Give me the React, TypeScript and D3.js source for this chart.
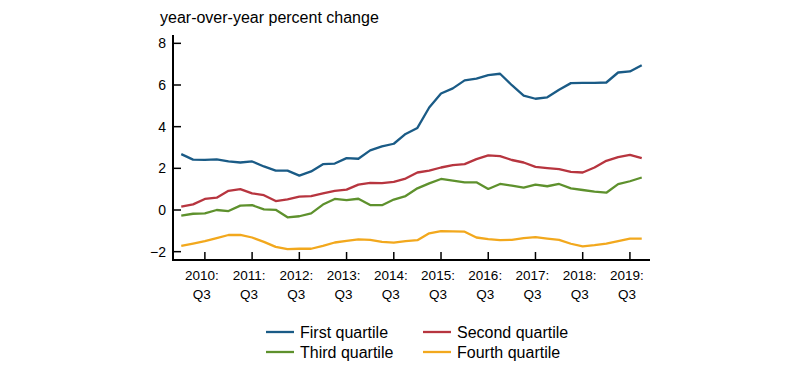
import React, { useEffect, useRef } from 'react';
import * as d3 from 'd3';

// quarterly, 2010:Q1 .. 2019:Q4
const quarters = d3.range(2010, 2020).flatMap(y => [1, 2, 3, 4].map(q => `${y}:Q${q}`));

const firstQuartile = [2.68, 2.42, 2.41, 2.43, 2.33, 2.28, 2.33, 2.09, 1.89, 1.89, 1.65, 1.85, 2.2, 2.23, 2.49, 2.46, 2.86, 3.05, 3.18, 3.65, 3.94, 4.92, 5.59, 5.84, 6.22, 6.31, 6.47, 6.54, 5.99, 5.49, 5.34, 5.41, 5.77, 6.09, 6.1, 6.1, 6.12, 6.6, 6.65, 6.95];
const secondQuartile = [0.16, 0.27, 0.53, 0.59, 0.92, 1.0, 0.8, 0.71, 0.43, 0.51, 0.64, 0.67, 0.8, 0.92, 0.98, 1.22, 1.3, 1.29, 1.35, 1.51, 1.8, 1.89, 2.04, 2.15, 2.2, 2.44, 2.62, 2.59, 2.4, 2.28, 2.07, 2.01, 1.96, 1.83, 1.8, 2.04, 2.36, 2.54, 2.65, 2.49];
const thirdQuartile = [-0.27, -0.18, -0.16, 0, -0.05, 0.21, 0.23, 0.03, 0.01, -0.35, -0.3, -0.16, 0.26, 0.53, 0.47, 0.54, 0.24, 0.23, 0.5, 0.67, 1.04, 1.28, 1.49, 1.41, 1.33, 1.33, 1.01, 1.25, 1.17, 1.07, 1.22, 1.14, 1.25, 1.04, 0.96, 0.88, 0.83, 1.24, 1.38, 1.56];
const fourthQuartile = [-1.72, -1.61, -1.49, -1.35, -1.2, -1.19, -1.32, -1.53, -1.77, -1.88, -1.86, -1.86, -1.72, -1.56, -1.48, -1.41, -1.43, -1.53, -1.57, -1.49, -1.45, -1.12, -1.01, -1.03, -1.04, -1.32, -1.4, -1.45, -1.43, -1.35, -1.3, -1.37, -1.43, -1.62, -1.75, -1.69, -1.61, -1.49, -1.37, -1.37];

const tickQuarters = ['2010:Q3', '2011:Q3', '2012:Q3', '2013:Q3', '2014:Q3', '2015:Q3', '2016:Q3', '2017:Q3', '2018:Q3', '2019:Q3'];
const yTicks = [-2, 0, 2, 4, 6, 8];

const series = [
  { name: 'First quartile', values: firstQuartile, color: '#1a5b86' },
  { name: 'Second quartile', values: secondQuartile, color: '#b7353f' },
  { name: 'Third quartile', values: thirdQuartile, color: '#5e912d' },
  { name: 'Fourth quartile', values: fourthQuartile, color: '#f2a81d' },
];

const FONT = '"Liberation Sans", Arial, Helvetica, sans-serif';

const App = () => {
  const svgRef = useRef<SVGSVGElement>(null);

  useEffect(() => {
    const width = 800;
    const height = 367;
    const svg = d3.select(svgRef.current)
      .attr('width', width)
      .attr('height', height);
    svg.selectAll('*').remove();

    const x = d3.scaleLinear().domain([-0.7, quarters.length - 0.3]).range([173, 650]);
    const y = d3.scaleLinear().domain([-2.4, 8.4]).range([260, 35]);
    const xi = (q: string) => x(quarters.indexOf(q));

    const g = svg.append('g').style('font-family', FONT);

    // title
    g.append('text')
      .attr('x', 160)
      .attr('y', 22.5)
      .attr('font-size', 16)
      .attr('fill', '#000')
      .text('year-over-year percent change');

    // y axis
    g.append('line')
      .attr('x1', 173).attr('x2', 173)
      .attr('y1', y(8.4)).attr('y2', 260)
      .attr('stroke', '#000').attr('stroke-width', 2);
    yTicks.forEach(t => {
      g.append('line')
        .attr('x1', 173).attr('x2', 181)
        .attr('y1', y(t)).attr('y2', y(t))
        .attr('stroke', '#000').attr('stroke-width', 1.5);
      g.append('text')
        .attr('x', 166)
        .attr('y', y(t) + 5)
        .attr('text-anchor', 'end')
        .attr('font-size', 14)
        .text(d3.format('d')(t));
    });

    // x axis
    g.append('line')
      .attr('x1', 172).attr('x2', 650)
      .attr('y1', 260).attr('y2', 260)
      .attr('stroke', '#000').attr('stroke-width', 2);
    tickQuarters.forEach(q => {
      const px = xi(q);
      g.append('line')
        .attr('x1', px).attr('x2', px)
        .attr('y1', 252).attr('y2', 260)
        .attr('stroke', '#000').attr('stroke-width', 1.5);
      const [yr, qq] = q.split(':');
      g.append('text')
        .attr('x', px - 3).attr('y', 279.5)
        .attr('text-anchor', 'middle')
        .attr('font-size', 13.5)
        .text(yr + ':');
      g.append('text')
        .attr('x', px - 3).attr('y', 299)
        .attr('text-anchor', 'middle')
        .attr('font-size', 13.5)
        .text(qq);
    });

    const line = d3.line<number>()
      .x((_, i) => x(i))
      .y(d => y(d));

    series.forEach(s => {
      g.append('path')
        .datum(s.values)
        .attr('d', line)
        .attr('fill', 'none')
        .attr('stroke', s.color)
        .attr('stroke-width', 2.3)
        .attr('stroke-linejoin', 'round');
    });

    // legend
    const legendPos = [[266, 332], [423, 332], [266, 352], [423, 352]];
    series.forEach((s, i) => {
      const [lx, ly] = legendPos[i];
      g.append('line')
        .attr('x1', lx).attr('x2', lx + 28)
        .attr('y1', ly).attr('y2', ly)
        .attr('stroke', s.color).attr('stroke-width', 2.3);
      g.append('text')
        .attr('x', lx + 34).attr('y', ly + 5.5)
        .attr('font-size', 16)
        .text(s.name);
    });
  }, []);

  return (
    <svg ref={svgRef} style={{ position: 'absolute', left: 0, top: 0, display: 'block' }}></svg>
  );
};

export default App;
